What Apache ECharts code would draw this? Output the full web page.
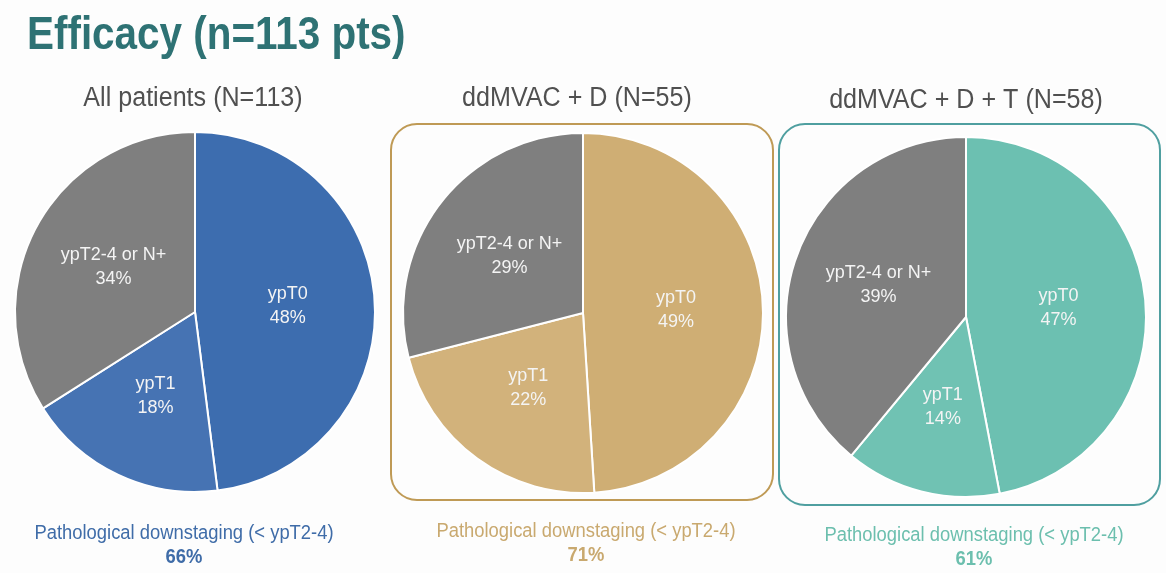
<!DOCTYPE html>
<html>
<head>
<meta charset="utf-8">
<title>Efficacy (n=113 pts)</title>
<script src="https://cdn.jsdelivr.net/npm/echarts@6/dist/echarts.min.js"></script>
<style>
  html, body { margin: 0; padding: 0; background: #fdfdfd; }
  #chart { width: 1166px; height: 573px; }
</style>
</head>
<body>
<div id="chart"></div>
<script>
// Response categories, shared by every pie
const categories = ['ypT0', 'ypT1', 'ypT2-4 or N+'];

// Percentage of patients per category, one array per cohort
const allPatients = [48, 18, 34];
const ddmvacD = [49, 22, 29];
const ddmvacDT = [47, 14, 39];

// Cohort headings and pathological downstaging rate (< ypT2-4)
const cohortTitles = ['All patients (N=113)', 'ddMVAC + D (N=55)', 'ddMVAC + D + T (N=58)'];
const downstaging = [66, 71, 61];

const FONT = '"Liberation Sans", Arial, sans-serif';
const GRAY = '#7f7f7f';

// Per-cohort styling: pie centre, colours for ypT0 / ypT1 and text colour
const cohorts = [
  { values: allPatients, center: [195, 312], colors: ['#3d6daf', '#4673b3', GRAY], text: '#3f6ca8' },
  { values: ddmvacD, center: [583, 313], colors: ['#cfae74', '#d2b27b', GRAY], text: '#c9a96f' },
  { values: ddmvacDT, center: [966, 317], colors: ['#6cc0b1', '#70c2b3', GRAY], text: '#6cbfae' }
];
const subtitleX = [193, 577, 966];
const subtitleY = [99, 99, 101];
const bottomX = [184, 586, 974];
const bottomY = [533, 531, 535];

const series = cohorts.map(c => ({
  type: 'pie',
  center: c.center,
  radius: 180,
  startAngle: 90,
  clockwise: true,
  silent: true,
  animation: false,
  itemStyle: { borderColor: '#ffffff', borderWidth: 2 },
  label: {
    position: 'inside',
    formatter: p => p.name + '\n' + p.value + '%',
    color: '#f4f4f4',
    fontFamily: FONT,
    fontSize: 18,
    lineHeight: 24
  },
  labelLine: { show: false },
  data: categories.map((name, i) => ({
    name: name,
    value: c.values[i],
    itemStyle: { color: c.colors[i] }
  }))
}));

// Condensed text: a regular face squeezed horizontally around its anchor
function text(x, y, str, font, fill, sx, align) {
  return {
    type: 'text', x: x, y: y, scaleX: sx, originX: 0, originY: 0,
    style: { text: str, fill: fill, font: font, textAlign: align || 'center', textVerticalAlign: 'middle' }
  };
}

const graphics = [
  // Rounded frames around the two treatment arms
  { type: 'rect', shape: { x: 391, y: 124, width: 382, height: 376, r: 26 },
    style: { fill: 'none', stroke: '#bf9a55', lineWidth: 2 }, z: -1 },
  { type: 'rect', shape: { x: 779, y: 124, width: 381, height: 381, r: 26 },
    style: { fill: 'none', stroke: '#4f9fa0', lineWidth: 2 }, z: -1 },
  // Slide heading
  text(27, 36, 'Efficacy (n=113 pts)', 'bold 47px ' + FONT, '#2e7274', 0.86, 'left')
];

cohortTitles.forEach((t, i) => {
  graphics.push(text(subtitleX[i], subtitleY[i], t, '27px ' + FONT, '#505050', 0.93));
  graphics.push(text(bottomX[i], bottomY[i], 'Pathological downstaging (< ypT2-4)',
                     '20px ' + FONT, cohorts[i].text, 0.92));
  graphics.push(text(bottomX[i], bottomY[i] + 24, downstaging[i] + '%',
                     'bold 20px ' + FONT, cohorts[i].text, 0.92));
});

const chart = echarts.init(document.getElementById('chart'), null, { renderer: 'canvas' });
chart.setOption({
  backgroundColor: '#fdfdfd',
  animation: false,
  series: series,
  graphic: graphics
});
</script>
</body>
</html>
